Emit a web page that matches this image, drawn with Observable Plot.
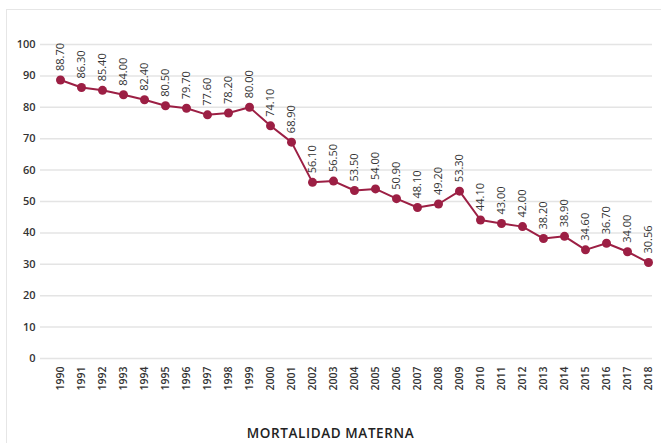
<!DOCTYPE html>
<html>
<head>
<meta charset="utf-8">
<script src="https://cdn.jsdelivr.net/npm/d3@7"></script>
<script src="https://cdn.jsdelivr.net/npm/@observablehq/plot@0.6"></script>
<style>
  html, body { margin: 0; padding: 0; background: #fff; }
  body { width: 661px; height: 443px; position: relative; overflow: hidden; font-family: "Open Sans", sans-serif; }
  #frame { position: absolute; left: 6px; top: 9px; width: 700px; height: 500px; border: 1px solid #e6e6e6; }
  #chart { position: absolute; left: 0; top: 0; }
  #title { position: absolute; left: 0; width: 661px; top: 424px; text-align: center; font-size: 13.5px; font-weight: 600; color: #222; letter-spacing: 0.6px; }
</style>
</head>
<body>
<div id="frame"></div>
<div id="chart"></div>
<div id="title">MORTALIDAD MATERNA</div>
<script>
const years = [1990,1991,1992,1993,1994,1995,1996,1997,1998,1999,2000,2001,2002,2003,2004,2005,2006,2007,2008,2009,2010,2011,2012,2013,2014,2015,2016,2017,2018];
const values = [88.70,86.30,85.40,84.00,82.40,80.50,79.70,77.60,78.20,80.00,74.10,68.90,56.10,56.50,53.50,54.00,50.90,48.10,49.20,53.30,44.10,43.00,42.00,38.20,38.90,34.60,36.70,34.00,30.56];
const yTicks = [0,10,20,30,40,50,60,70,80,90,100];

const data = years.map((y, i) => ({year: String(y), value: values[i]}));
const color = "#9c1f44";

const chart = Plot.plot({
  width: 661,
  height: 405,
  marginLeft: 40,
  marginRight: 9,
  marginTop: 44,
  marginBottom: 47,
  style: {fontFamily: "Open Sans, sans-serif", background: "transparent", overflow: "visible"},
  x: {type: "point", domain: years.map(String), range: [58, 649], padding: 0},
  y: {domain: [0, 100], ticks: yTicks},
  marks: [
    Plot.gridY(yTicks, {stroke: "#e4e4e4", strokeOpacity: 1, strokeWidth: 1.5}),
    Plot.axisY(yTicks, {tickSize: 0, tickPadding: 5, fontSize: 11, fontWeight: 600, fill: "#333", label: null}),
    Plot.axisX({tickSize: 0, tickRotate: -90, tickPadding: 8, fontSize: 10.5, fontWeight: 600, fill: "#333", label: null}),
    Plot.line(data, {x: "year", y: "value", stroke: color, strokeWidth: 2}),
    Plot.dot(data, {x: "year", y: "value", fill: color, r: 4.5}),
    Plot.text(data, {x: "year", y: "value", text: d => d.value.toFixed(2), rotate: -90, textAnchor: "start", dy: -9, fontSize: 11, fill: "#333"})
  ]
});
document.getElementById("chart").appendChild(chart);
</script>
</body>
</html>
